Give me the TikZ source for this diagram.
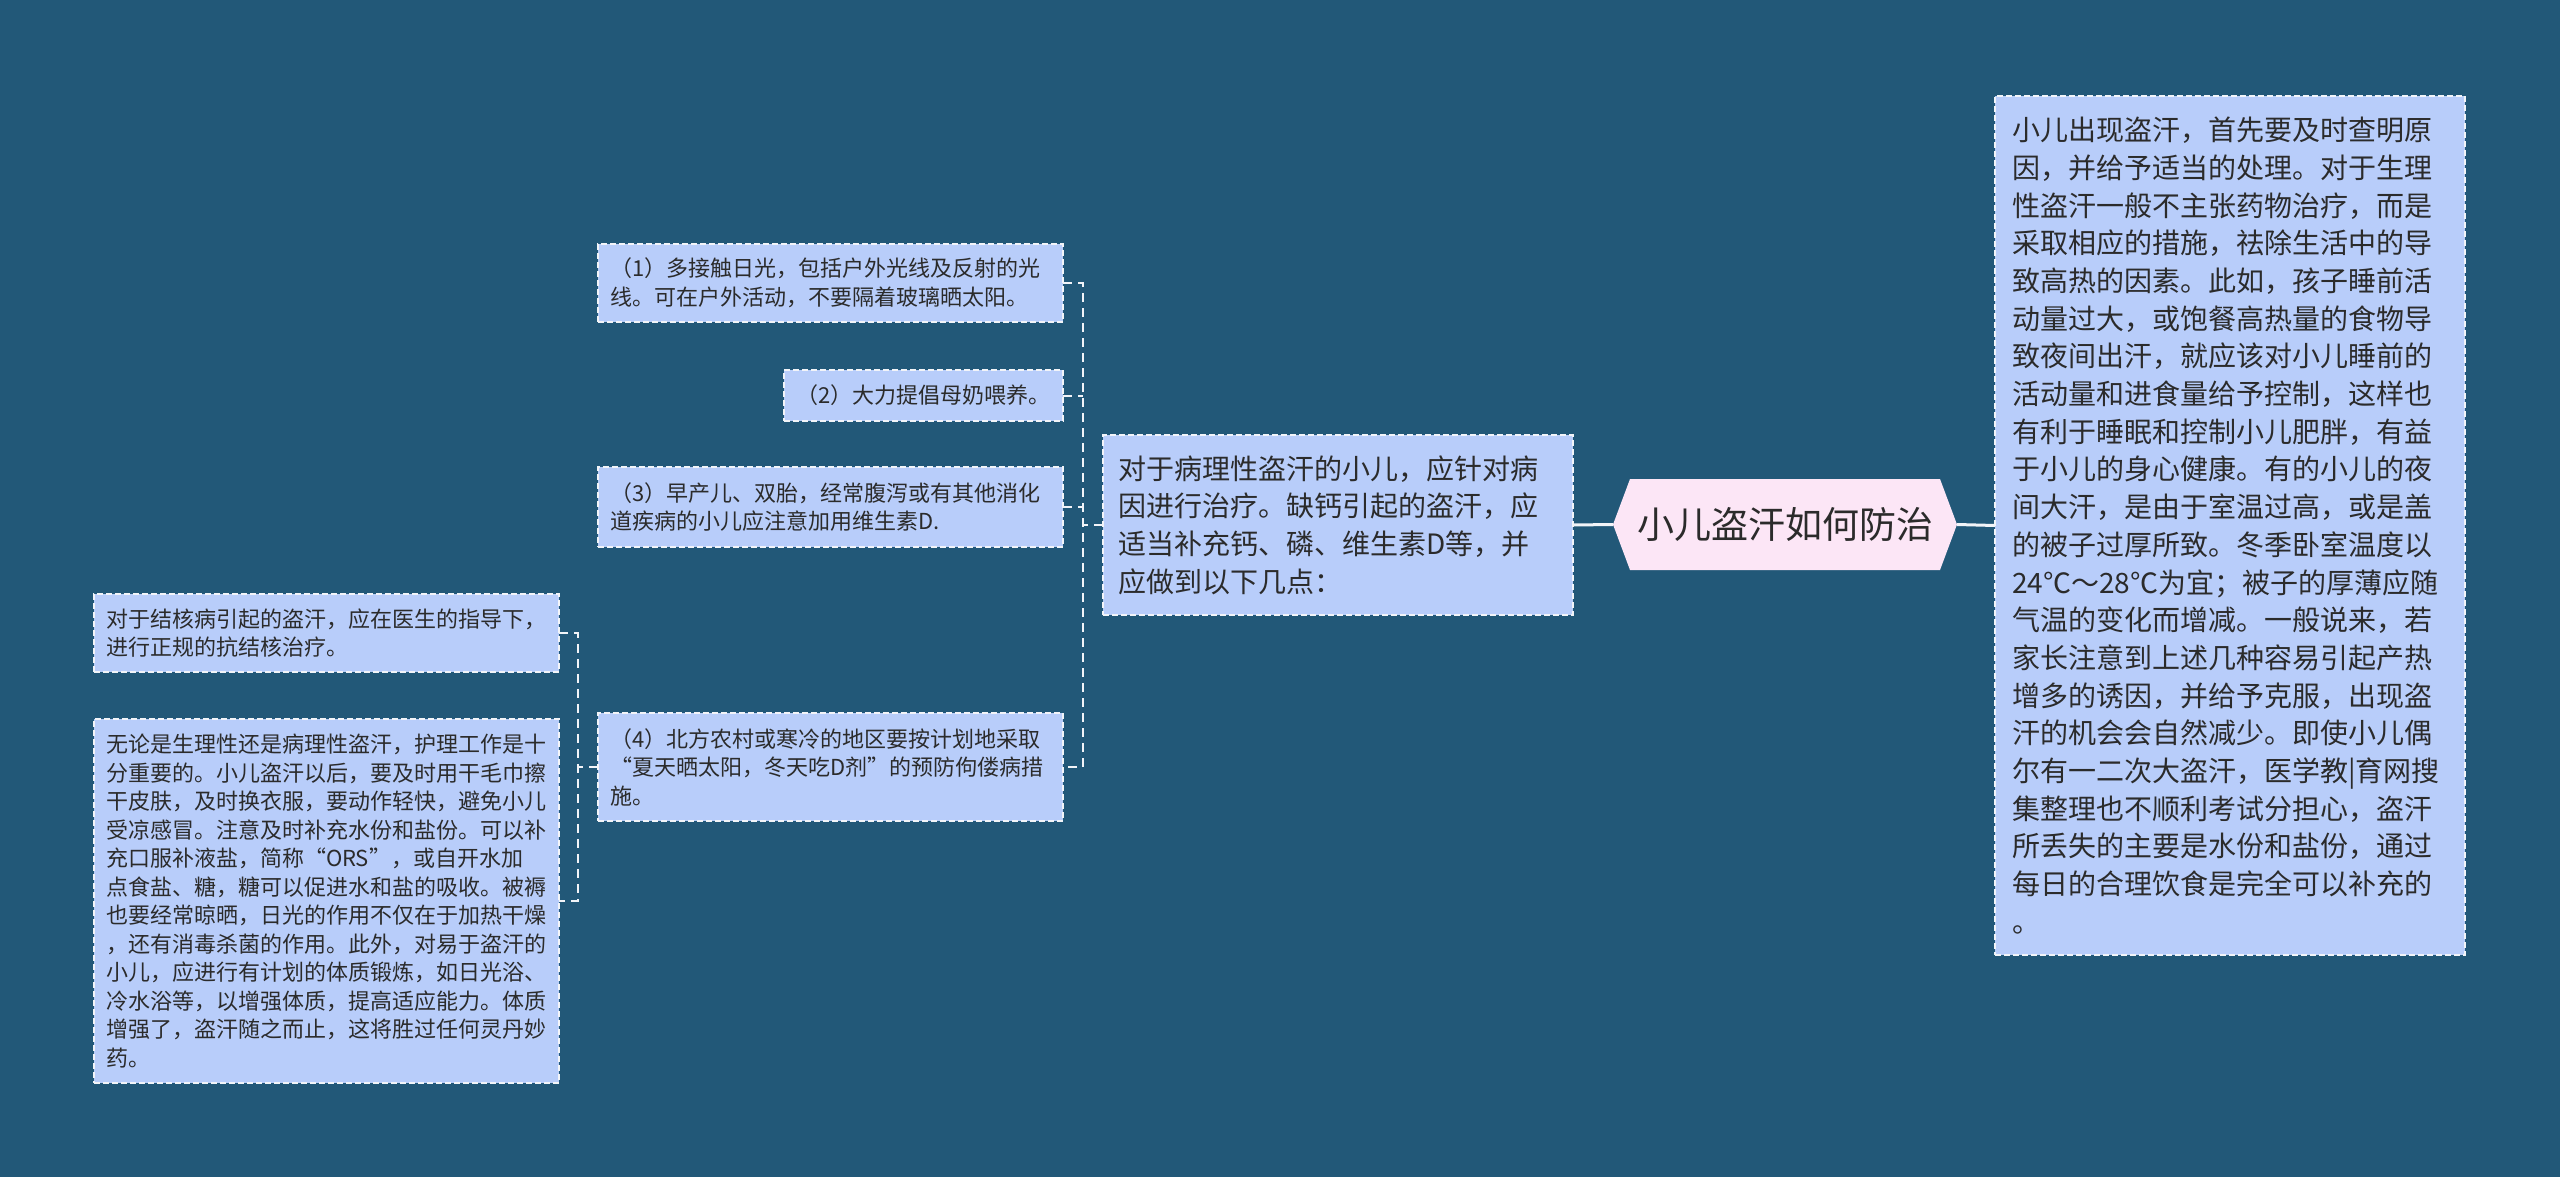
\documentclass[tikz,border=0pt]{standalone}
\usepackage{fontspec}
\setmainfont{Noto Sans CJK SC}
\usetikzlibrary{backgrounds}
\definecolor{bg}{HTML}{225878}
\definecolor{boxfill}{HTML}{B8CDFA}
\definecolor{rootfill}{HTML}{FCE6F6}
\definecolor{txt}{HTML}{2B2B2B}
\definecolor{edge}{HTML}{F2F4F8}
\begin{document}
\begin{tikzpicture}[x=1pt,y=-1pt,
  box/.style={draw=edge, fill=boxfill, line width=1.2pt, dash pattern=on 6pt off 3pt, text=txt, align=left, inner xsep=12pt, inner ysep=0pt, outer sep=0pt},
  bigtxt/.style={font=\fontsize{28}{37.7}\selectfont},
  smalltxt/.style={font=\fontsize{22}{28.5}\selectfont},
  solidlink/.style={draw=edge, line width=3pt},
  dashlink/.style={draw=edge, line width=2pt, dash pattern=on 9pt off 6pt}]
\useasboundingbox (0,0) rectangle (2560,1177);

\node[text=txt, font=\fontsize{37}{44}\selectfont, minimum width=344pt, minimum height=91pt, inner sep=0pt, outer sep=0pt] (root) at (1785,524.5) {小儿盗汗如何防治};

\node[box, bigtxt, text width=436pt, inner xsep=17pt, minimum height=859pt] (R) at (2230,525.5) {小儿出现盗汗，首先要及时查明原\\因，并给予适当的处理。对于生理\\性盗汗一般不主张药物治疗，而是\\采取相应的措施，祛除生活中的导\\致高热的因素。此如，孩子睡前活\\动量过大，或饱餐高热量的食物导\\致夜间出汗，就应该对小儿睡前的\\活动量和进食量给予控制，这样也\\有利于睡眠和控制小儿肥胖，有益\\于小儿的身心健康。有的小儿的夜\\间大汗，是由于室温过高，或是盖\\的被子过厚所致。冬季卧室温度以\\24℃～28℃为宜；被子的厚薄应随\\气温的变化而增减。一般说来，若\\家长注意到上述几种容易引起产热\\增多的诱因，并给予克服，出现盗\\汗的机会会自然减少。即使小儿偶\\尔有一二次大盗汗，医学教|育网搜\\集整理也不顺利考试分担心，盗汗\\所丢失的主要是水份和盐份，通过\\每日的合理饮食是完全可以补充的\\。};

\node[box, bigtxt, text width=440pt, inner xsep=15pt, minimum height=180pt] (M) at (1338,525) {对于病理性盗汗的小儿，应针对病\\因进行治疗。缺钙引起的盗汗，应\\适当补充钙、磷、维生素D等，并\\应做到以下几点：};

\node[box, smalltxt, text width=441pt, minimum height=78pt] (B1) at (830.5,283) {（1）多接触日光，包括户外光线及反射的光\\线。可在户外活动，不要隔着玻璃晒太阳。};
\node[box, smalltxt, text width=255pt, minimum height=51pt] (B2) at (923.5,395.5) {（2）大力提倡母奶喂养。};
\node[box, smalltxt, text width=441pt, minimum height=80pt] (B3) at (830.5,507) {（3）早产儿、双胎，经常腹泻或有其他消化\\道疾病的小儿应注意加用维生素D.};
\node[box, smalltxt, text width=441pt, minimum height=108pt] (B4) at (830.5,767) {（4）北方农村或寒冷的地区要按计划地采取\\“夏天晒太阳，冬天吃D剂”的预防佝偻病措\\施。};

\node[box, smalltxt, text width=441pt, minimum height=78pt] (TB) at (326.5,633) {对于结核病引起的盗汗，应在医生的指导下，\\进行正规的抗结核治疗。};
\node[box, smalltxt, text width=441pt, minimum height=364pt] (LONG) at (326.5,901) {无论是生理性还是病理性盗汗，护理工作是十\\分重要的。小儿盗汗以后，要及时用干毛巾擦\\干皮肤，及时换衣服，要动作轻快，避免小儿\\受凉感冒。注意及时补充水份和盐份。可以补\\充口服补液盐，简称“ORS”，或自开水加\\点食盐、糖，糖可以促进水和盐的吸收。被褥\\也要经常晾晒，日光的作用不仅在于加热干燥\\，还有消毒杀菌的作用。此外，对易于盗汗的\\小儿，应进行有计划的体质锻炼，如日光浴、\\冷水浴等，以增强体质，提高适应能力。体质\\增强了，盗汗随之而止，这将胜过任何灵丹妙\\药。};

\coordinate (J1) at (1083,525);
\coordinate (J2) at (578,767);

\draw[solidlink] (M.east) -- (root.west);
\draw[solidlink] (root.east) -- (R.west);
\draw[dashlink] (M.west) -- (J1);
\draw[dashlink] (B1.east) -- (B1.east -| J1) -- (B4.east -| J1) -- (B4.east);
\draw[dashlink] (B2.east) -- (B2.east -| J1);
\draw[dashlink] (B3.east) -- (B3.east -| J1);
\draw[dashlink] (B4.west) -- (J2);
\draw[dashlink] (TB.east) -- (TB.east -| J2) -- (LONG.east -| J2) -- (LONG.east);

\begin{scope}[on background layer]
\fill[bg] (0,0) rectangle (2560,1177);
\fill[rootfill] (root.west) -- ([xshift=17pt]root.north west) -- ([xshift=-17pt]root.north east) -- (root.east) -- ([xshift=-17pt]root.south east) -- ([xshift=17pt]root.south west) -- cycle;
\end{scope}
\end{tikzpicture}
\end{document}
